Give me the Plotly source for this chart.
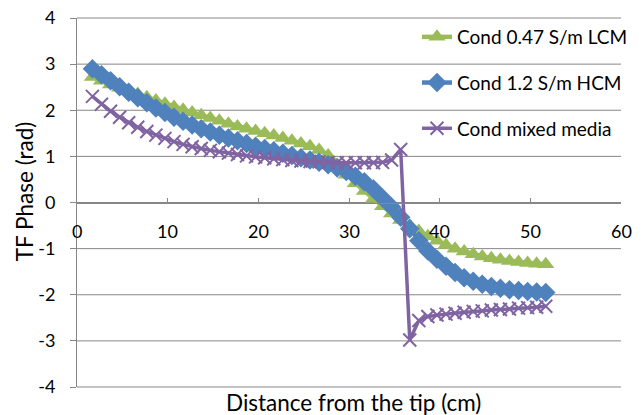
import plotly.graph_objects as go

# Distance from the tip (cm)
distance = [1.7, 2.7, 3.7, 4.7, 5.7, 6.7, 7.7, 8.7, 9.7, 10.7,
            11.7, 12.7, 13.7, 14.7, 15.7, 16.7, 17.7, 18.7, 19.7, 20.7,
            21.7, 22.7, 23.7, 24.7, 25.7, 26.7, 27.7, 28.7, 29.7, 30.7,
            31.7, 32.7, 33.7, 34.7, 35.7, 36.7, 37.7, 38.7, 39.7, 40.7,
            41.7, 42.7, 43.7, 44.7, 45.7, 46.7, 47.7, 48.7, 49.7, 50.7, 51.7]

phase_lcm = [2.72, 2.64, 2.56, 2.49, 2.42, 2.35, 2.28, 2.21, 2.14, 2.07,
             2.01, 1.95, 1.89, 1.83, 1.77, 1.71, 1.65, 1.60, 1.55, 1.50,
             1.45, 1.40, 1.34, 1.28, 1.22, 1.14, 1.02, 0.82, 0.60, 0.42,
             0.25, 0.08, -0.08, -0.24, -0.38, -0.50, -0.62, -0.73, -0.83, -0.92,
             -1.00, -1.06, -1.12, -1.17, -1.21, -1.24, -1.27, -1.29, -1.31, -1.33, -1.34]

phase_hcm = [2.90, 2.77, 2.64, 2.51, 2.39, 2.27, 2.16, 2.05, 1.95, 1.85,
             1.76, 1.68, 1.60, 1.53, 1.46, 1.40, 1.34, 1.28, 1.22, 1.17,
             1.12, 1.07, 1.02, 0.97, 0.92, 0.87, 0.82, 0.75, 0.67, 0.57,
             0.45, 0.29, 0.10, -0.10, -0.32, -0.57, -0.83, -1.05, -1.23, -1.38,
             -1.52, -1.63, -1.71, -1.77, -1.82, -1.86, -1.89, -1.91, -1.93, -1.94, -1.95]

phase_mixed = [2.30, 2.13, 1.98, 1.85, 1.73, 1.63, 1.54, 1.46, 1.39, 1.32,
               1.26, 1.21, 1.17, 1.13, 1.10, 1.07, 1.04, 1.01, 0.99, 0.97,
               0.95, 0.93, 0.91, 0.90, 0.89, 0.88, 0.87, 0.86, 0.86, 0.86,
               0.86, 0.86, 0.87, 0.92, 1.15, -2.98, -2.56, -2.47, -2.44, -2.42,
               -2.40, -2.38, -2.36, -2.35, -2.33, -2.32, -2.31, -2.29, -2.28, -2.27, -2.25]

x_ticks = [0, 10, 20, 30, 40, 50, 60]
x_tick_labels = ["0", "10", "20", "30", "40", "50", "60"]
y_ticks = [-4, -3, -2, -1, 0, 1, 2, 3, 4]
y_tick_labels = ["-4", "-3", "-2", "-1", "0", "1", "2", "3", "4"]

names = ["Cond 0.47 S/m LCM", "Cond 1.2 S/m HCM", "Cond mixed media"]
colors = ["#9BBB59", "#4F81BD", "#8064A2"]

FONT = "Lato"
GRID = "#878787"
Y_RANGE = [y_ticks[0], y_ticks[-1]]

fig = go.Figure()
fig.add_trace(go.Scatter(
    x=distance, y=phase_lcm, name=names[0], legendgroup="a", mode="lines+markers",
    line=dict(color=colors[0], width=4.5),
    marker=dict(symbol="triangle-up", size=15, color=colors[0])))
fig.add_trace(go.Scatter(
    x=distance, y=phase_hcm, name=names[1], legendgroup="b", mode="lines+markers",
    line=dict(color=colors[1], width=4.5),
    marker=dict(symbol="diamond", size=15, color=colors[1])))
fig.add_trace(go.Scatter(
    x=distance, y=phase_mixed, name=names[2], legendgroup="c", mode="lines+markers",
    line=dict(color=colors[2], width=3.5),
    marker=dict(symbol="x-thin", size=13, color=colors[2],
                line=dict(color=colors[2], width=2))))

# horizontal gridlines (paper-referenced so the edge lines are not clipped)
span = Y_RANGE[1] - Y_RANGE[0]
shapes = [dict(type="line", xref="paper", yref="paper", x0=0, x1=1,
               y0=(v - Y_RANGE[0]) / span, y1=(v - Y_RANGE[0]) / span,
               line=dict(color=GRID, width=1), layer="below") for v in y_ticks]

annotations = [dict(text=t, x=v, y=0, xref="x", yref="y", xanchor="center",
                    yanchor="middle", yshift=-28, showarrow=False,
                    font=dict(size=18))
               for v, t in zip(x_ticks, x_tick_labels)]
annotations.append(dict(text="Distance from the tip (cm)", x=0.509, y=-0.043,
                        xref="paper", yref="paper", xanchor="center",
                        yanchor="middle", showarrow=False, font=dict(size=22.5)))
annotations.append(dict(text="TF Phase (rad)", x=-0.0974, y=0.528,
                        xref="paper", yref="paper", xanchor="center",
                        yanchor="middle", textangle=-90, showarrow=False,
                        font=dict(size=22.5)))

# the page body adds an 8px offset, so the figure is 8px smaller on each side
fig.update_layout(
    width=636, height=407,
    margin=dict(l=69, r=23, t=10, b=28, autoexpand=False),
    paper_bgcolor="white", plot_bgcolor="white",
    font=dict(family=FONT, size=18, color="#000000"),
    showlegend=True,
    legend=dict(x=0.625, y=1.0, xanchor="left", yanchor="top",
                bgcolor="rgba(0,0,0,0)", traceorder="grouped",
                tracegroupgap=18, font=dict(size=19, family=FONT)),
    xaxis=dict(range=[0, 60], tickvals=x_ticks, anchor="free", position=0.5,
               showline=True, linecolor=GRID, linewidth=1,
               ticks="inside", ticklen=5, tickcolor=GRID,
               showticklabels=False, showgrid=False, zeroline=False),
    yaxis=dict(range=Y_RANGE, tickvals=y_ticks, ticktext=y_tick_labels,
               showline=True, linecolor=GRID,
               linewidth=1, ticks="outside", ticklen=6, tickcolor=GRID,
               showgrid=False, zeroline=False, ticklabeloverflow="allow",
               ticklabelstandoff=11, tickfont=dict(size=18)),
    shapes=shapes,
    annotations=annotations,
)

fig.write_html("out.html")
